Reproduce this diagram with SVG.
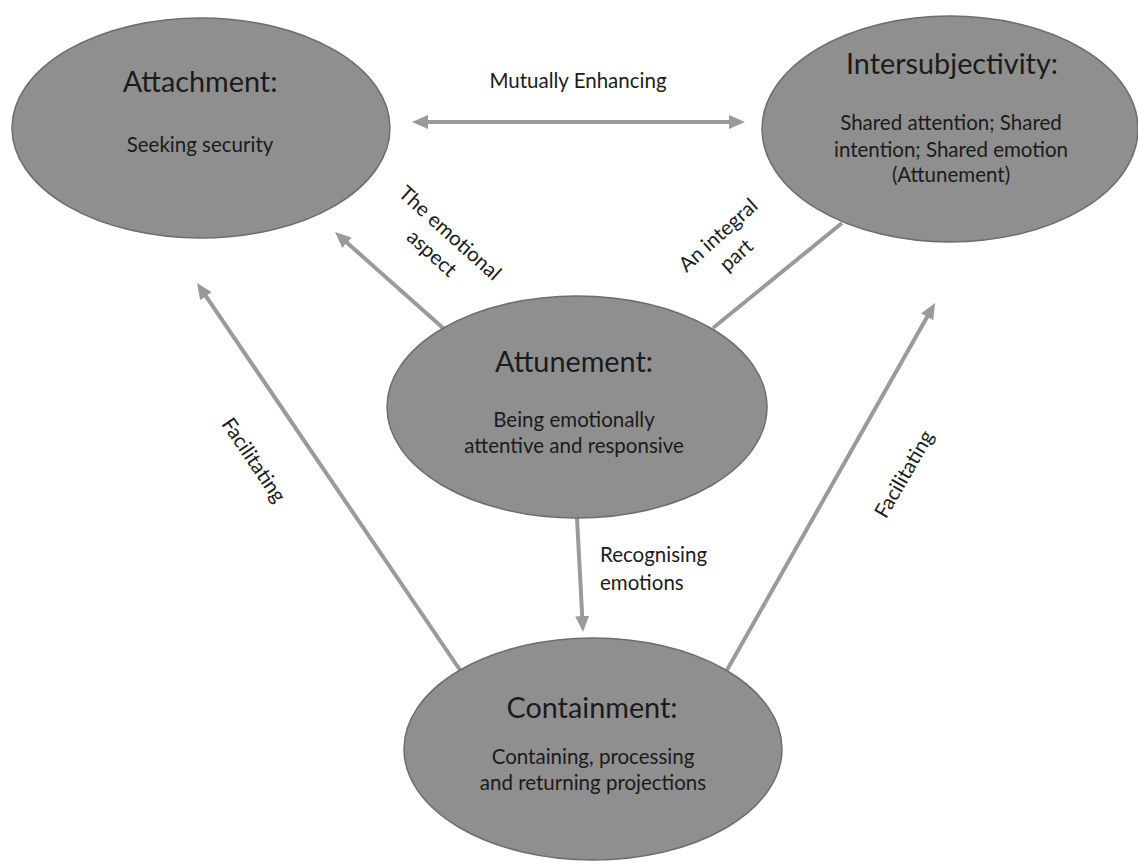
<svg xmlns="http://www.w3.org/2000/svg" width="1138" height="864" viewBox="0 0 1138 864">
<defs>
<marker id="ah" viewBox="0 0 16 14" refX="4" refY="7" markerWidth="16" markerHeight="14" markerUnits="userSpaceOnUse" orient="auto-start-reverse">
<path d="M0,0 L16,7 L0,14 z" fill="#9a9a9a"/>
</marker>
<style>
.node ellipse{fill:#8f8f8f;stroke:#6d6d6d;stroke-width:1.5}
text{font-family:Lato,"Liberation Sans",sans-serif;fill:#1b1b1b}
.t{font-size:28.8px;text-anchor:middle}
.s{font-size:20.5px;text-anchor:middle}
.l{font-size:20.5px}
.c{font-size:20.5px;text-anchor:middle}
.conn path{fill:none;stroke:#9a9a9a;stroke-width:4}
</style>
</defs>
<rect width="1138" height="864" fill="#ffffff"/>
<g id="connectors" class="conn">
<path d="M424,122 L733,122" marker-start="url(#ah)" marker-end="url(#ah)"/>
<path d="M443,328 L344,240" marker-end="url(#ah)"/>
<path d="M713,328 L842,223" stroke-width="3.5"/>
<path d="M460,670 L203.7,292.9" marker-end="url(#ah)"/>
<path d="M727,670 L929.1,313.4" marker-end="url(#ah)"/>
<path d="M577,518 L582.4,620" marker-end="url(#ah)"/>
</g>
<g id="labels">
<text class="c" x="578" y="88">Mutually Enhancing</text>
<g transform="translate(441,243) rotate(42)">
<text class="c" x="0" y="-13.5" dy="0.35em">The emotional</text>
<text class="c" x="0" y="13.5" dy="0.35em">aspect</text>
</g>
<g transform="translate(727,245) rotate(-42)">
<text class="c" x="0" y="-13.5" dy="0.35em">An integral</text>
<text class="c" x="0" y="13.5" dy="0.35em">part</text>
</g>
<g transform="translate(254,460) rotate(55.8)">
<text class="c" x="0" y="0" dy="0.35em">Facilitating</text>
</g>
<g transform="translate(904,474) rotate(-60)">
<text class="c" x="0" y="0" dy="0.35em">Facilitating</text>
</g>
<text class="l" x="600" y="562">Recognising</text>
<text class="l" x="600" y="590">emotions</text>
</g>
<g id="attachment" class="node">
<ellipse cx="201" cy="128" rx="189" ry="110"/>
<text class="t" x="200" y="92">Attachment:</text>
<text class="s" x="200" y="152">Seeking security</text>
</g>
<g id="intersubjectivity" class="node">
<ellipse cx="950" cy="129" rx="188" ry="113"/>
<text class="t" x="952" y="74">Intersubjectivity:</text>
<text class="s" x="951" y="130">Shared attention; Shared</text>
<text class="s" x="951" y="157">intention; Shared emotion</text>
<text class="s" x="951" y="182">(Attunement)</text>
</g>
<g id="attunement" class="node">
<ellipse cx="577" cy="407" rx="190" ry="111"/>
<text class="t" x="574" y="372">Attunement:</text>
<text class="s" x="574" y="427">Being emotionally</text>
<text class="s" x="574" y="453">attentive and responsive</text>
</g>
<g id="containment" class="node">
<ellipse cx="593" cy="749" rx="189" ry="111"/>
<text class="t" x="592" y="718">Containment:</text>
<text class="s" x="593" y="764">Containing, processing</text>
<text class="s" x="593" y="790">and returning projections</text>
</g>
</svg>
